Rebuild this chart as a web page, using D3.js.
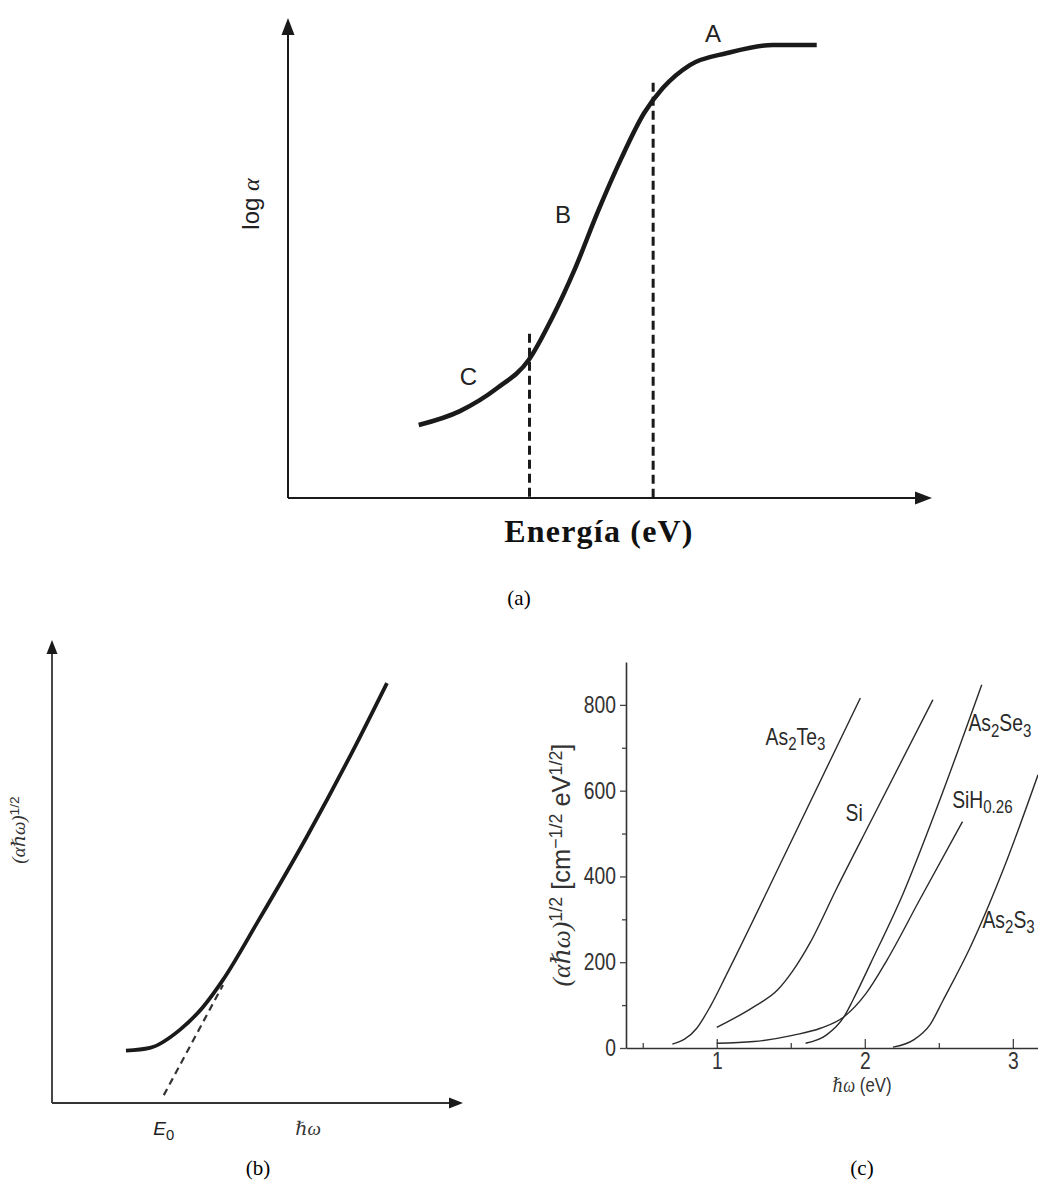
<!DOCTYPE html>
<html>
<head>
<meta charset="utf-8">
<script src="https://cdn.jsdelivr.net/npm/d3@7"></script>
<style>
  body { margin: 0; background: #fff; }
  svg { display: block; }
  .narrow { font-family: 'Liberation Sans', Arial, sans-serif; }
  .serif { font-family: 'Liberation Serif', 'DejaVu Serif', serif; }
</style>
</head>
<body>
<script>
// ---------- panel (a): log alpha vs energy (schematic units 0..10) ----------
const aEnergy   = [2.03, 2.67, 3.25, 3.74, 4.10, 4.46, 4.81, 5.17, 5.53, 5.82, 6.24, 6.82, 7.53, 8.21]
const aLogAlpha = [1.52, 1.81, 2.29, 2.88, 3.75, 4.79, 5.96, 7.06, 8.02, 8.54, 9.02, 9.27, 9.44, 9.44]
const aBoundX   = [3.75, 5.67]
const aBoundTop = [3.42, 8.65]
const aRegions  = ['C', 'B', 'A']
const aRegionE  = [2.80, 4.27, 6.60]
const aRegionY  = [2.54, 5.90, 9.67]

// ---------- panel (b): Tauc construction (schematic units 0..10) ----------
const bEnergy = [1.80, 2.38, 3.11, 3.67, 4.16, 4.99, 6.20, 7.42, 8.15]
const bRoot   = [1.13, 1.19, 1.58, 2.07, 2.66, 3.89, 5.75, 7.78, 9.07]
const bTangentE = [2.72, 4.16]
const bTangentY = [0.17, 2.55]

// ---------- panel (c): measured Tauc plots ----------
const cNames = ['As2Te3', 'Si', 'As2Se3', 'SiH0.26', 'As2S3']
const cEnergy = [
  [0.70, 0.865, 0.955, 1.07, 1.47, 1.97],
  [1.00, 1.25, 1.41, 1.51, 1.63, 1.81, 2.04, 2.46],
  [1.60, 1.74, 1.86, 1.92, 2.04, 2.26, 2.49, 2.79],
  [1.00, 1.25, 1.52, 1.70, 1.86, 2.01, 2.15, 2.37, 2.66],
  [2.19, 2.33, 2.44, 2.53, 2.71, 2.94, 3.17]
]
const cValue = [
  [9, 46, 96, 174, 458, 816],
  [48, 96, 135, 178, 245, 372, 528, 812],
  [11, 30, 73, 112, 198, 361, 563, 847],
  [11, 15, 30, 46, 73, 128, 205, 345, 528],
  [2, 19, 54, 112, 233, 420, 637]
]
// label anchors (left edge, in data units)
const cLabelE = [1.33, 1.87, 2.70, 2.59, 2.795]
const cLabelV = [726, 548, 758, 579, 299]
const cLabelParts = [
  [['As', 0], ['2', 1], ['Te', 0], ['3', 1]],
  [['Si', 0]],
  [['As', 0], ['2', 1], ['Se', 0], ['3', 1]],
  [['SiH', 0], ['0.26', 1]],
  [['As', 0], ['2', 1], ['S', 0], ['3', 1]]
]
const cMajorX = [1, 2, 3]
const cMinorX = [0.5, 1.5, 2.5]
const cMajorY = [0, 200, 400, 600, 800]
const cMinorY = [100, 300, 500, 700]

const svg = d3.select('body').append('svg')
  .attr('width', 1038)
  .attr('height', 1195)

const ink = '#1a1a1a'
const squeeze = 0.84   // condensed look of the sans labels in (c)

function arrowHead (g, x, y, dir, len, half) {
  let pts
  if (dir === 'up') pts = [[x, y], [x - half, y + len], [x + half, y + len]]
  else pts = [[x, y], [x - len, y - half], [x - len, y + half]]
  g.append('path')
    .attr('d', 'M' + pts.map(p => p.join(',')).join('L') + 'Z')
    .attr('fill', ink)
}

function formula (sel, parts) {
  parts.forEach(p => {
    const t = sel.append('tspan').text(p[0])
    if (p[1] === 1) t.attr('baseline-shift', '-28%').attr('font-size', '78%')
    if (p[1] === 2) t.attr('baseline-shift', '42%').attr('font-size', '70%')
  })
}

// ========================================================
//  panel (a)
// ========================================================
{
  const g = svg.append('g')
  const x = d3.scaleLinear().domain([0, 10]).range([288, 932])
  const y = d3.scaleLinear().domain([0, 10]).range([498, 18])

  // axes
  g.append('line').attr('x1', x(0)).attr('x2', x(10) - 10).attr('y1', y(0)).attr('y2', y(0))
    .attr('stroke', ink).attr('stroke-width', 2)
  g.append('line').attr('x1', x(0)).attr('x2', x(0)).attr('y1', y(0)).attr('y2', y(10) + 10)
    .attr('stroke', ink).attr('stroke-width', 2)
  arrowHead(g, x(10), y(0), 'right', 17, 6.5)
  arrowHead(g, x(0), y(10), 'up', 17, 6.5)

  // region boundaries
  aBoundX.forEach((b, i) => {
    g.append('line')
      .attr('x1', x(b)).attr('x2', x(b))
      .attr('y1', y(aBoundTop[i])).attr('y2', y(0))
      .attr('stroke', ink).attr('stroke-width', 3)
      .attr('stroke-dasharray', '9,5')
  })

  const line = d3.line()
    .x(d => x(d[0]))
    .y(d => y(d[1]))
    .curve(d3.curveMonotoneX)

  g.append('path')
    .datum(aEnergy.map((e, i) => [e, aLogAlpha[i]]))
    .attr('d', line)
    .attr('fill', 'none')
    .attr('stroke', ink)
    .attr('stroke-width', 4.5)

  aRegions.forEach((r, i) => {
    g.append('text')
      .attr('x', x(aRegionE[i])).attr('y', y(aRegionY[i]))
      .attr('dy', '0.36em')
      .attr('text-anchor', 'middle')
      .attr('font-family', 'Liberation Sans, Arial, sans-serif')
      .attr('font-size', 24)
      .attr('fill', '#222')
      .text(r)
  })

  const yl = g.append('text')
    .attr('transform', 'translate(' + 259 + ',' + 204 + ') rotate(-90)')
    .attr('text-anchor', 'middle')
    .attr('font-family', 'Liberation Sans, Arial, sans-serif')
    .attr('font-size', 24)
    .attr('fill', '#222')
  yl.append('tspan').text('log ')
  yl.append('tspan').attr('font-family', 'Liberation Serif, serif').attr('font-style', 'italic').text('α')

  g.append('text')
    .attr('class', 'serif')
    .attr('x', 599).attr('y', 542)
    .attr('text-anchor', 'middle')
    .attr('font-size', 32)
    .attr('font-weight', 'bold')
    .attr('letter-spacing', 1.2)
    .attr('fill', '#111')
    .text('Energía (eV)')

  g.append('text')
    .attr('class', 'serif')
    .attr('x', 519).attr('y', 605)
    .attr('text-anchor', 'middle')
    .attr('font-size', 21)
    .text('(a)')
}

// ========================================================
//  panel (b)
// ========================================================
{
  const g = svg.append('g')
  const x = d3.scaleLinear().domain([0, 10]).range([52, 463])
  const y = d3.scaleLinear().domain([0, 10]).range([1103, 640])

  g.append('line').attr('x1', x(0)).attr('x2', x(10) - 10).attr('y1', y(0)).attr('y2', y(0))
    .attr('stroke', '#333').attr('stroke-width', 1.8)
  g.append('line').attr('x1', x(0)).attr('x2', x(0)).attr('y1', y(0)).attr('y2', y(10) + 10)
    .attr('stroke', '#333').attr('stroke-width', 1.8)
  arrowHead(g, x(10), y(0), 'right', 14, 5.5)
  arrowHead(g, x(0), y(10), 'up', 14, 5.5)

  g.append('line')
    .attr('x1', x(bTangentE[0])).attr('y1', y(bTangentY[0]))
    .attr('x2', x(bTangentE[1])).attr('y2', y(bTangentY[1]))
    .attr('stroke', '#333').attr('stroke-width', 2.2)
    .attr('stroke-dasharray', '7,5')

  const line = d3.line()
    .x(d => x(d[0]))
    .y(d => y(d[1]))
    .curve(d3.curveMonotoneX)

  g.append('path')
    .datum(bEnergy.map((e, i) => [e, bRoot[i]]))
    .attr('d', line)
    .attr('fill', 'none')
    .attr('stroke', ink)
    .attr('stroke-width', 3.8)

  // E0 and hbar omega
  const e0 = g.append('text')
    .attr('x', x(bTangentE[0])).attr('y', 1135)
    .attr('text-anchor', 'middle')
    .attr('font-family', 'Liberation Sans, Arial, sans-serif')
    .attr('font-size', 19)
    .attr('fill', '#222')
  e0.append('tspan').attr('font-style', 'italic').text('E')
  e0.append('tspan').attr('baseline-shift', '-30%').attr('font-size', '78%').text('0')

  g.append('text')
    .attr('class', 'serif')
    .attr('x', 308).attr('y', 1135)
    .attr('text-anchor', 'middle')
    .attr('font-size', 19)
    .attr('font-style', 'italic')
    .attr('fill', '#333')
    .text('ℏω')

  const yl = g.append('text')
    .attr('transform', 'translate(' + 25 + ',' + 830 + ') rotate(-90)')
    .attr('text-anchor', 'middle')
    .attr('font-size', 19)
    .attr('fill', '#333')
  yl.append('tspan').attr('class', 'serif').attr('font-style', 'italic').text('(αℏω)')
  yl.append('tspan').attr('class', 'narrow').attr('baseline-shift', '45%').attr('font-size', '72%').text('1/2')

  g.append('text')
    .attr('class', 'serif')
    .attr('x', 258).attr('y', 1175)
    .attr('text-anchor', 'middle')
    .attr('font-size', 21)
    .text('(b)')
}

// ========================================================
//  panel (c)
// ========================================================
{
  const g = svg.append('g')
  const x = d3.scaleLinear().domain([0.387, 3.17]).range([626, 1038])
  const y = d3.scaleLinear().domain([0, 900]).range([1048, 662])

  const lineCol = '#2a2a2a'

  const xAxis = g.append('g')
    .attr('class', 'narrow')
    .attr('transform', 'translate(0,' + y(0) + ')')
    .call(d3.axisBottom(x).tickValues(cMajorX).tickSizeInner(-9).tickSizeOuter(0).tickPadding(5).tickFormat(d3.format('d')))
  g.append('g')
    .attr('transform', 'translate(0,' + y(0) + ')')
    .call(d3.axisBottom(x).tickValues(cMinorX).tickSizeInner(-5).tickSizeOuter(0).tickFormat(''))
    .select('.domain').remove()

  const yAxis = g.append('g')
    .attr('class', 'narrow')
    .attr('transform', 'translate(' + x.range()[0] + ',0)')
    .call(d3.axisLeft(y).tickValues(cMajorY).tickSizeInner(6).tickSizeOuter(0).tickPadding(4).tickFormat(d3.format('d')))
  g.append('g')
    .attr('transform', 'translate(' + x.range()[0] + ',0)')
    .call(d3.axisLeft(y).tickValues(cMinorY).tickSizeInner(4).tickSizeOuter(0).tickFormat(''))
    .select('.domain').remove()

  g.selectAll('.domain').attr('stroke', '#333').attr('stroke-width', 1.6)
  g.selectAll('.tick line').attr('stroke', '#444').attr('stroke-width', 1.3)
  ;[xAxis, yAxis].forEach(a => a.selectAll('text')
    .attr('font-size', 23)
    .attr('fill', '#333')
    .attr('font-family', null)
    .attr('transform', 'scale(' + squeeze + ',1)'))
  // keep the right edge of y labels next to the ticks after squeezing
  yAxis.selectAll('text').attr('x', -10 / squeeze)

  const line = d3.line()
    .x(d => x(d[0]))
    .y(d => y(d[1]))
    .curve(d3.curveMonotoneX)

  cNames.forEach((name, s) => {
    g.append('path')
      .datum(cEnergy[s].map((e, i) => [e, cValue[s][i]]))
      .attr('d', line)
      .attr('fill', 'none')
      .attr('stroke', lineCol)
      .attr('stroke-width', 1.4)

    const t = g.append('text')
      .attr('class', 'narrow')
      .attr('transform', 'translate(' + x(cLabelE[s]) + ',' + y(cLabelV[s]) + ') scale(' + squeeze + ',1)')
      .attr('dy', '0.36em')
      .attr('font-size', 23)
      .attr('fill', '#2a2a2a')
    formula(t, cLabelParts[s])
  })

  // y label
  const yl = g.append('text')
    .attr('transform', 'translate(' + 570 + ',' + 865 + ') rotate(-90) scale(0.98,1)')
    .attr('text-anchor', 'middle')
    .attr('font-size', 26)
    .attr('fill', '#333')
  yl.append('tspan').attr('class', 'serif').attr('font-style', 'italic').text('(αℏω)')
  formula(yl.append('tspan').attr('class', 'narrow'), [['1/2', 2], [' [cm', 0], ['−1/2', 2], [' eV', 0], ['1/2', 2], [']', 0]])

  const xl = g.append('text')
    .attr('transform', 'translate(862,1092) scale(' + squeeze + ',1)')
    .attr('text-anchor', 'middle')
    .attr('font-size', 20)
    .attr('fill', '#333')
  xl.append('tspan').attr('class', 'serif').attr('font-style', 'italic').text('ℏω')
  xl.append('tspan').attr('class', 'narrow').text(' (eV)')

  g.append('text')
    .attr('class', 'serif')
    .attr('x', 862).attr('y', 1175)
    .attr('text-anchor', 'middle')
    .attr('font-size', 21)
    .text('(c)')
}
</script>
</body>
</html>
